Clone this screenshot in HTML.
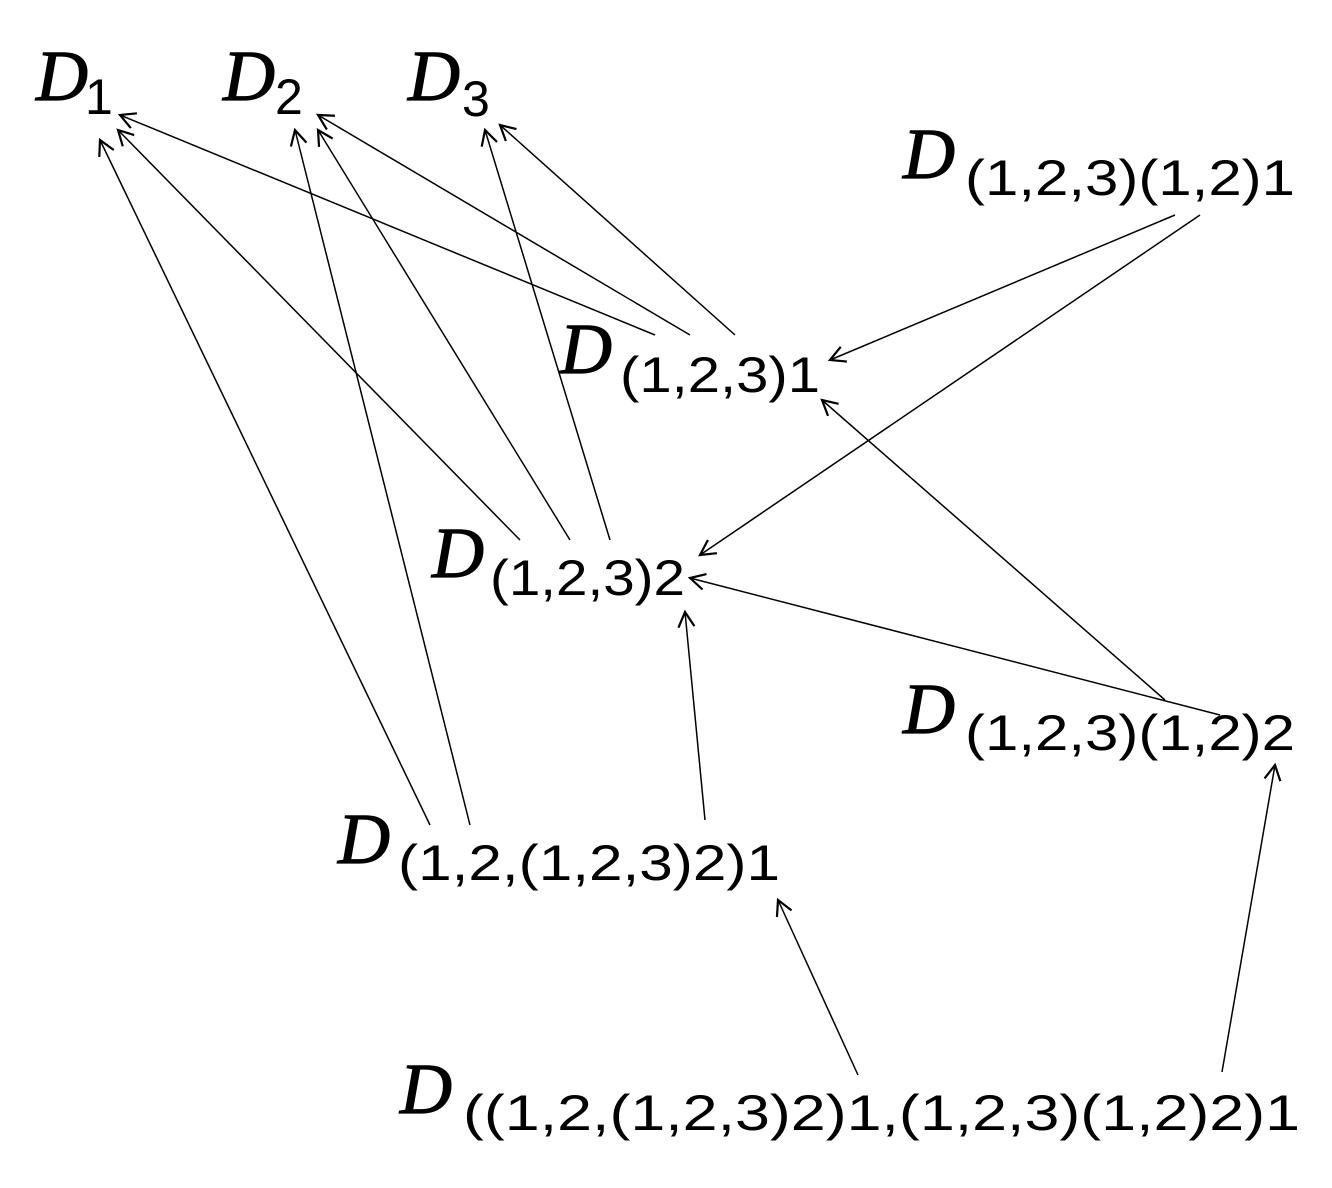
<!DOCTYPE html>
<html><head><meta charset="utf-8"><style>
html,body{margin:0;padding:0;background:#fff;}
svg{display:block}
.D{font-family:"Liberation Serif",serif;font-style:italic;font-size:72px;fill:#000;stroke:#000;stroke-width:1.2}
.s{font-family:"Liberation Sans",sans-serif;font-size:50px;fill:#000}
line{stroke:#000;stroke-width:1.5;marker-end:url(#a)}
</style></head><body>
<svg width="1332" height="1188" viewBox="0 0 1332 1188" xmlns="http://www.w3.org/2000/svg">
<defs><marker id="a" markerWidth="24" markerHeight="24" refX="20" refY="12" orient="auto" markerUnits="userSpaceOnUse">
<polyline points="5,4 20,12 5,20" fill="none" stroke="#000" stroke-width="2.2"/></marker></defs>

<text class="D" x="36" y="100">D</text><text class="s" x="85" y="114">1</text>
<text class="D" x="223" y="100">D</text><text class="s" x="275" y="114">2</text>
<text class="D" x="408" y="100">D</text><text class="s" x="462" y="116">3</text>

<text class="D" x="903" y="178">D</text><text class="s" x="965" y="195" textLength="330" lengthAdjust="spacingAndGlyphs">(1,2,3)(1,2)1</text>
<text class="D" x="560" y="373">D</text><text class="s" x="620" y="392" textLength="200" lengthAdjust="spacingAndGlyphs">(1,2,3)1</text>
<text class="D" x="432" y="577">D</text><text class="s" x="490" y="595" textLength="195" lengthAdjust="spacingAndGlyphs">(1,2,3)2</text>
<text class="D" x="903" y="733">D</text><text class="s" x="965" y="750" textLength="330" lengthAdjust="spacingAndGlyphs">(1,2,3)(1,2)2</text>
<text class="D" x="338" y="863">D</text><text class="s" x="398" y="880" textLength="382" lengthAdjust="spacingAndGlyphs">(1,2,(1,2,3)2)1</text>
<text class="D" x="400" y="1113">D</text><text class="s" x="463" y="1130" textLength="837" lengthAdjust="spacingAndGlyphs">((1,2,(1,2,3)2)1,(1,2,3)(1,2)2)1</text>

<line x1="655" y1="335" x2="120" y2="115"/>
<line x1="690" y1="335" x2="318" y2="115"/>
<line x1="735" y1="335" x2="500" y2="125"/>
<line x1="520" y1="540" x2="118" y2="130"/>
<line x1="570" y1="540" x2="318" y2="130"/>
<line x1="610" y1="540" x2="485" y2="130"/>
<line x1="430" y1="825" x2="100" y2="140"/>
<line x1="470" y1="825" x2="295" y2="130"/>
<line x1="705" y1="820" x2="685" y2="612"/>
<line x1="1175" y1="215" x2="830" y2="360"/>
<line x1="1200" y1="215" x2="700" y2="555"/>
<line x1="1220" y1="715" x2="690" y2="578"/>
<line x1="1165" y1="700" x2="822" y2="400"/>
<line x1="858" y1="1075" x2="778" y2="900"/>
<line x1="1222" y1="1072" x2="1275" y2="765"/>
</svg>
</body></html>
